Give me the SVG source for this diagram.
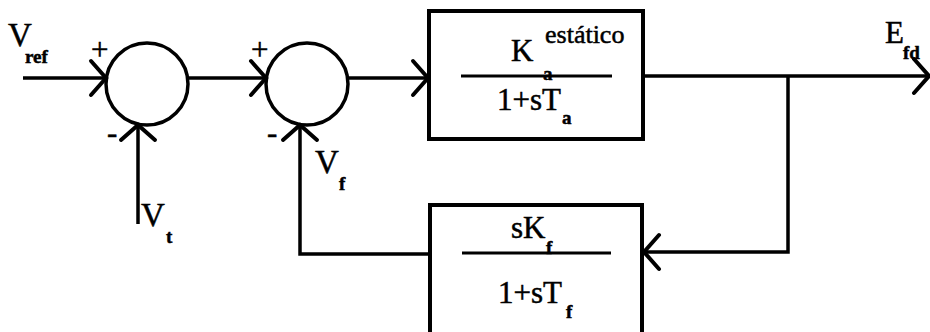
<svg xmlns="http://www.w3.org/2000/svg" width="930" height="332" viewBox="0 0 930 332">
<defs>
<marker id="arr" markerUnits="userSpaceOnUse" markerWidth="40" markerHeight="40" viewBox="-20 -20 40 40" refX="0" refY="0" orient="auto">
<path d="M-15,-17 L0,0 L-15,17" fill="none" stroke="#000" stroke-width="4" stroke-linecap="round" stroke-linejoin="miter"/>
</marker>
</defs>
<style>
.ln{fill:none;stroke:#000;stroke-width:3.5}
.bx{fill:#fff;stroke:#000;stroke-width:4}
text{font-family:'Liberation Serif','Times New Roman',serif;fill:#000;stroke:#000;stroke-width:0.5}
.m{font-size:31px}
.v{font-size:33px}
.s{font-size:19px;font-weight:bold}
.e{font-size:26px}
.sg{font-size:31px}
</style>
<rect width="930" height="332" fill="#fff"/>
<g id="connectors">
<path class="ln" d="M23,78 H106" marker-end="url(#arr)"/>
<path class="ln" d="M188,78 H266" marker-end="url(#arr)"/>
<path class="ln" d="M138,224 V125" marker-end="url(#arr)"/>
<path class="ln" d="M348,78 H428" marker-end="url(#arr)"/>
<path class="ln" d="M643,76 H929" marker-end="url(#arr)"/>
<path class="ln" d="M788,76 V252 H644" marker-end="url(#arr)"/>
<path class="ln" d="M430,254 H300 V125" marker-end="url(#arr)"/>
</g>
<g id="sum1">
<circle cx="147" cy="84" r="41" class="ln"/>
<text class="sg" x="91" y="60">+</text>
<text class="sg" x="107" y="143">-</text>
</g>
<g id="sum2">
<circle cx="307" cy="84" r="41" class="ln"/>
<text class="sg" x="251" y="60">+</text>
<text class="sg" x="267" y="143">-</text>
</g>
<g id="block1">
<rect class="bx" x="429" y="11" width="214" height="128"/>
<line x1="461" y1="76" x2="612" y2="76" stroke="#000" stroke-width="3"/>
<text class="m" x="511" y="61">K</text>
<text class="s" x="543" y="80">a</text>
<text class="e" x="545" y="43">estático</text>
<text class="m" x="497" y="110">1+sT</text>
<text class="s" x="562" y="124">a</text>
</g>
<g id="block2">
<rect class="bx" x="430" y="205" width="212" height="140"/>
<line x1="462" y1="253" x2="611" y2="253" stroke="#000" stroke-width="3"/>
<text class="m" x="511" y="238">sK</text>
<text class="s" x="546" y="254">f</text>
<text class="m" x="498" y="303">1+sT</text>
<text class="s" x="566" y="318">f</text>
</g>
<g id="labels">
<text class="v" x="8" y="46">V</text>
<text class="s" x="25" y="63">ref</text>
<text class="v" x="141" y="226">V</text>
<text class="s" x="166" y="243">t</text>
<text class="v" x="315" y="173">V</text>
<text class="s" x="339" y="190">f</text>
<text class="m" x="885" y="43">E</text>
<text class="s" x="903" y="59">fd</text>
</g>
</svg>
